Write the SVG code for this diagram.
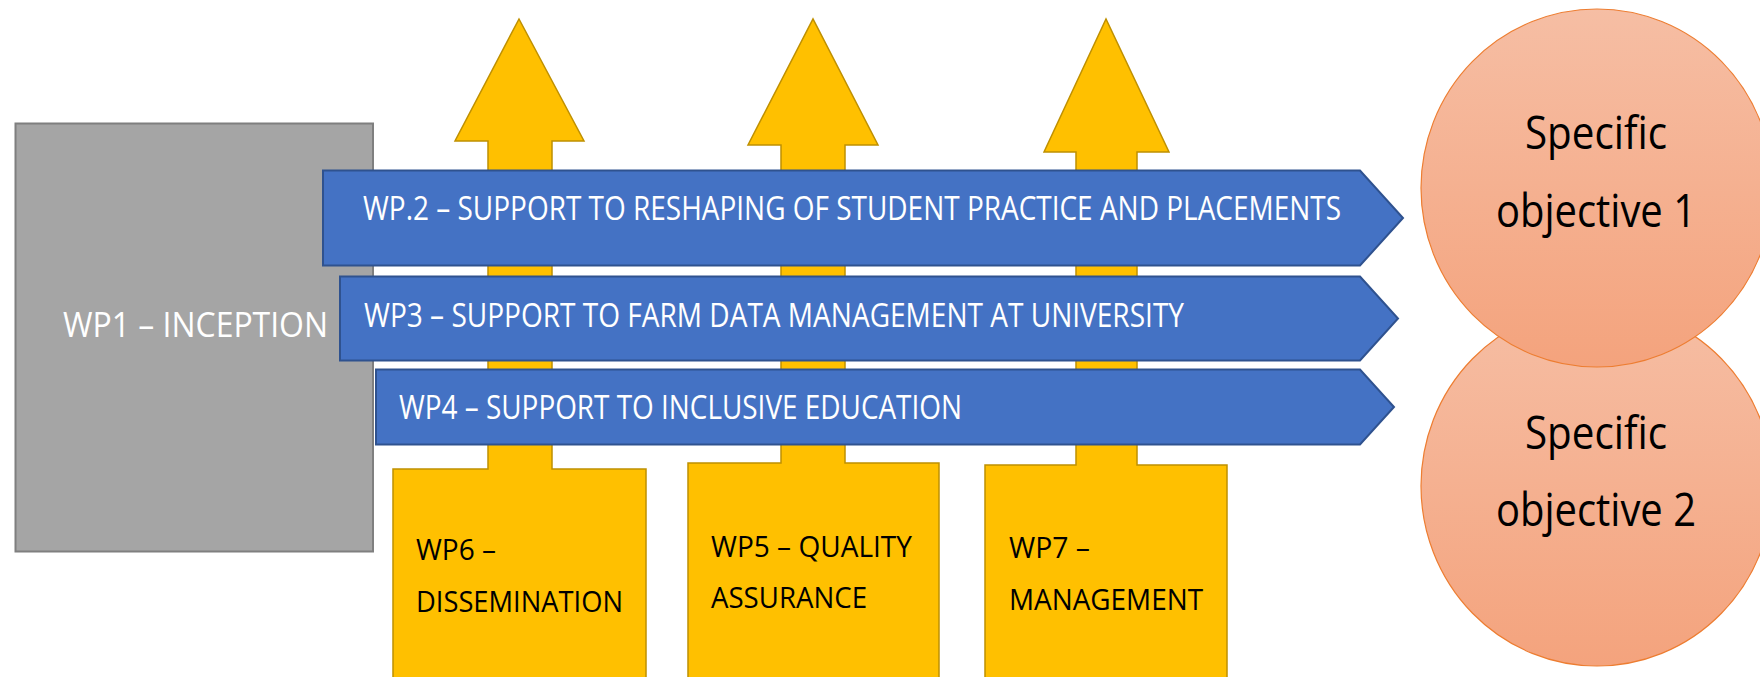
<svg xmlns="http://www.w3.org/2000/svg" width="1760" height="677" viewBox="0 0 1760 677">
  <defs>
    <linearGradient id="objGrad" x1="0" y1="0" x2="0" y2="1">
      <stop offset="0" stop-color="#F6BEA4"/>
      <stop offset="1" stop-color="#F4A37D"/>
    </linearGradient>
    <style>
      .gray { fill: #A5A5A5; stroke: #7F7F7F; stroke-width: 2; }
      .wp { fill: #FFC000; stroke: #BF9000; stroke-width: 1.5; stroke-linejoin: miter; }
      .band { fill: #4472C4; stroke: #2F528F; stroke-width: 2; stroke-linejoin: miter; }
      .obj { fill: url(#objGrad); stroke: #ED7D31; stroke-width: 1.2; }
      .wtxt { font-family: "Open Sans", "DejaVu Sans", sans-serif; fill: #FFFFFF; }
      .btxt { font-family: "Open Sans", "DejaVu Sans", sans-serif; fill: #000000; }
      .otxt { font-family: "Open Sans", "DejaVu Sans", sans-serif; fill: #000000; font-weight: 500; }
    </style>
  </defs>
  <rect width="1760" height="677" fill="#FFFFFF"/>

  <g id="wp1">
    <rect class="gray" x="15.5" y="123.5" width="357.5" height="428"/>
    <text class="wtxt" x="63" y="337" font-size="35" textLength="265" lengthAdjust="spacingAndGlyphs">WP1 – INCEPTION</text>
  </g>

  <g id="wp6">
    <polygon class="wp" points="393,690 393,469 488,469 488,141 455,141 519,19 584,141 552,141 552,469 646,469 646,690"/>
    <text class="btxt" x="416" y="560" font-size="30" textLength="80" lengthAdjust="spacingAndGlyphs">WP6 –</text>
    <text class="btxt" x="416" y="612" font-size="30" textLength="207" lengthAdjust="spacingAndGlyphs">DISSEMINATION</text>
  </g>

  <g id="wp5">
    <polygon class="wp" points="688,690 688,463 781,463 781,145 748,145 813,19 878,145 845,145 845,463 939,463 939,690"/>
    <text class="btxt" x="711" y="557" font-size="30" textLength="201" lengthAdjust="spacingAndGlyphs">WP5 – QUALITY</text>
    <text class="btxt" x="711" y="608" font-size="30" textLength="156" lengthAdjust="spacingAndGlyphs">ASSURANCE</text>
  </g>

  <g id="wp7">
    <polygon class="wp" points="985,690 985,465 1076,465 1076,152 1044,152 1106,19 1169,152 1137,152 1137,465 1227,465 1227,690"/>
    <text class="btxt" x="1009" y="558" font-size="30" textLength="81" lengthAdjust="spacingAndGlyphs">WP7 –</text>
    <text class="btxt" x="1009" y="610" font-size="30" textLength="194" lengthAdjust="spacingAndGlyphs">MANAGEMENT</text>
  </g>

  <g id="wp2">
    <polygon class="band" points="323,170.5 1360,170.5 1403,218 1360,265.5 323,265.5"/>
    <text class="wtxt" x="363" y="220" font-size="32" textLength="978" lengthAdjust="spacingAndGlyphs">WP.2 – SUPPORT TO RESHAPING OF STUDENT PRACTICE AND PLACEMENTS</text>
  </g>

  <g id="wp3">
    <polygon class="band" points="340,276.5 1360,276.5 1398,318.5 1360,360.5 340,360.5"/>
    <text class="wtxt" x="364" y="327" font-size="32" textLength="820" lengthAdjust="spacingAndGlyphs">WP3 – SUPPORT TO FARM DATA MANAGEMENT AT UNIVERSITY</text>
  </g>

  <g id="wp4">
    <polygon class="band" points="376,369.5 1360,369.5 1394,407 1360,444.5 376,444.5"/>
    <text class="wtxt" x="399" y="419" font-size="32" textLength="563" lengthAdjust="spacingAndGlyphs">WP4 – SUPPORT TO INCLUSIVE EDUCATION</text>
  </g>

  <g id="objective2">
    <ellipse class="obj" cx="1597" cy="486" rx="176" ry="180"/>
    <text class="otxt" x="1596" y="449" font-size="45" text-anchor="middle" textLength="142" lengthAdjust="spacingAndGlyphs">Specific</text>
    <text class="otxt" x="1596" y="526" font-size="45" text-anchor="middle" textLength="200" lengthAdjust="spacingAndGlyphs">objective 2</text>
  </g>

  <g id="objective1">
    <ellipse class="obj" cx="1597" cy="188" rx="176" ry="179"/>
    <text class="otxt" x="1596" y="149" font-size="45" text-anchor="middle" textLength="142" lengthAdjust="spacingAndGlyphs">Specific</text>
    <text class="otxt" x="1596" y="227" font-size="45" text-anchor="middle" textLength="200" lengthAdjust="spacingAndGlyphs">objective 1</text>
  </g>

  <g id="connectors"/>
</svg>
